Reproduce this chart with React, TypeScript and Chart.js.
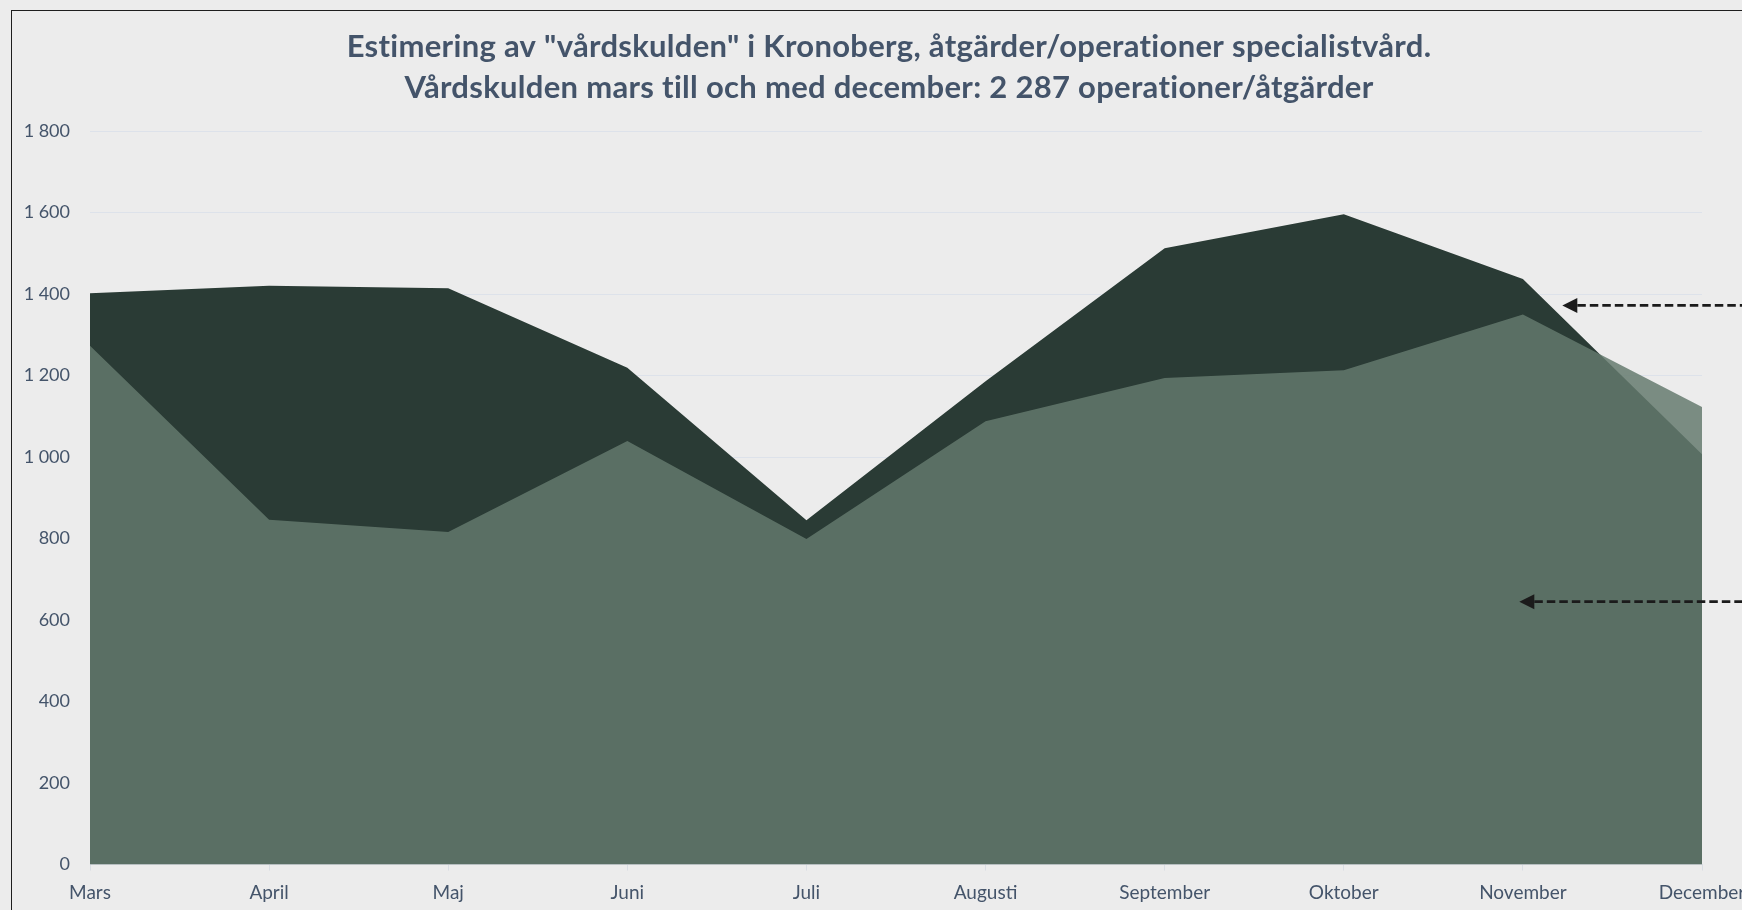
import React, { useEffect, useRef } from "react";
import { Chart, registerables } from "chart.js";

Chart.register(...registerables);

const MONTHS = ["Mars", "April", "Maj", "Juni", "Juli", "Augusti", "September", "Oktober", "November", "December"];
const EXPECTED = [1402, 1420, 1414, 1219, 845, 1186, 1512, 1596, 1437, 1007];
const ACTUAL = [1273, 846, 816, 1039, 799, 1088, 1194, 1213, 1350, 1123];
const TITLE_LINES = [
  'Estimering av "vårdskulden" i Kronoberg, åtgärder/operationer specialistvård.',
  "Vårdskulden mars till och med december: 2 287 operationer/åtgärder",
];
// annotation arrows: [category index of tip, value]
const ARROWS = [
  [8.22, 1372],
  [7.98, 645],
];

const CANVAS_W = 1800;
const CANVAS_H = 910;

const fmt = (v: number) => {
  const s = String(Math.round(v));
  return s.replace(/\B(?=(\d{3})+(?!\d))/g, " ");
};

const overlayPlugin = {
  id: "overlay",
  afterDraw(chart: any) {
    const ctx = chart.ctx;
    const xs = chart.scales.x;
    const ys = chart.scales.y;
    ctx.save();
    // title
    ctx.fillStyle = "#44546a";
    ctx.font = "bold 31px Lato";
    try {
      (ctx as any).letterSpacing = "0.3px";
    } catch (e) {}
    ctx.textAlign = "center";
    ctx.textBaseline = "middle";
    ctx.fillText(TITLE_LINES[0], 889, 47);
    ctx.fillText(TITLE_LINES[1], 889, 88);
    try {
      (ctx as any).letterSpacing = "0px";
    } catch (e) {}
    // arrows
    ctx.strokeStyle = "#1b1b1b";
    ctx.fillStyle = "#1b1b1b";
    ctx.lineWidth = 2.7;
    ARROWS.forEach(([xi, val]) => {
      const x = xs.getPixelForValue(xi);
      const y = ys.getPixelForValue(val);
      ctx.setLineDash([8.5, 4]);
      ctx.beginPath();
      ctx.moveTo(x + 15, y);
      ctx.lineTo(chart.width + 5, y);
      ctx.stroke();
      ctx.setLineDash([]);
      ctx.beginPath();
      ctx.moveTo(x, y);
      ctx.lineTo(x + 15, y - 7.5);
      ctx.lineTo(x + 15, y + 7.5);
      ctx.closePath();
      ctx.fill();
    });
    ctx.restore();
  },
};

export default function App() {
  const ref = useRef<HTMLCanvasElement | null>(null);
  useEffect(() => {
    if (!ref.current) return;
    const chart = new Chart(ref.current, {
      type: "line",
      data: {
        labels: MONTHS,
        datasets: [
          {
            label: "Utfört",
            data: ACTUAL,
            fill: "origin",
            backgroundColor: "rgba(100,122,110,0.84)",
            borderWidth: 0,
            pointRadius: 0,
            tension: 0,
          },
          {
            label: "Förväntat",
            data: EXPECTED,
            fill: "origin",
            backgroundColor: "#2a3b35",
            borderWidth: 0,
            pointRadius: 0,
            tension: 0,
          },
        ],
      },
      options: {
        responsive: false,
        animation: false,
        layout: { padding: { top: 131, left: 0, right: CANVAS_W - 1702, bottom: 0 } },
        plugins: {
          legend: { display: false },
          title: { display: false },
          tooltip: { enabled: false },
        },
        scales: {
          x: {
            offset: false,
            afterFit: (s: any) => {
              s.height = 45.5;
            },
            grid: {
              drawOnChartArea: false,
              drawTicks: true,
              tickLength: 6,
              color: "#d9dde3",
            },
            border: { display: true, color: "#d9dde3", width: 1 },
            ticks: {
              color: "#44546a",
              font: { family: "Lato", size: 19 },
              padding: 11,
              maxRotation: 0,
              autoSkip: false,
            },
          },
          y: {
            min: 0,
            max: 1800,
            afterFit: (s: any) => {
              s.width = 90;
            },
            grid: { color: "#dde2ea", drawTicks: false, lineWidth: 1 },
            border: { display: false },
            ticks: {
              stepSize: 200,
              color: "#44546a",
              font: { family: "Lato", size: 18 },
              padding: 20,
              callback: (v: any) => fmt(Number(v)),
            },
          },
        },
      },
      plugins: [overlayPlugin],
    });
    return () => chart.destroy();
  }, []);
  return (
    <div style={{ position: "fixed", left: 0, top: 0, width: 1742, height: 910, background: "#ececec", overflow: "hidden" }}>
      <canvas
        ref={ref}
        width={CANVAS_W}
        height={CANVAS_H}
        style={{ position: "absolute", left: 0, top: 0, width: CANVAS_W, height: CANVAS_H }}
      />
      <div
        style={{
          position: "absolute",
          left: 11,
          top: 10,
          width: 1800,
          height: 1000,
          borderLeft: "1.5px solid #1e1e1e",
          borderTop: "1.5px solid #1e1e1e",
          pointerEvents: "none",
        }}
      />
    </div>
  );
}
